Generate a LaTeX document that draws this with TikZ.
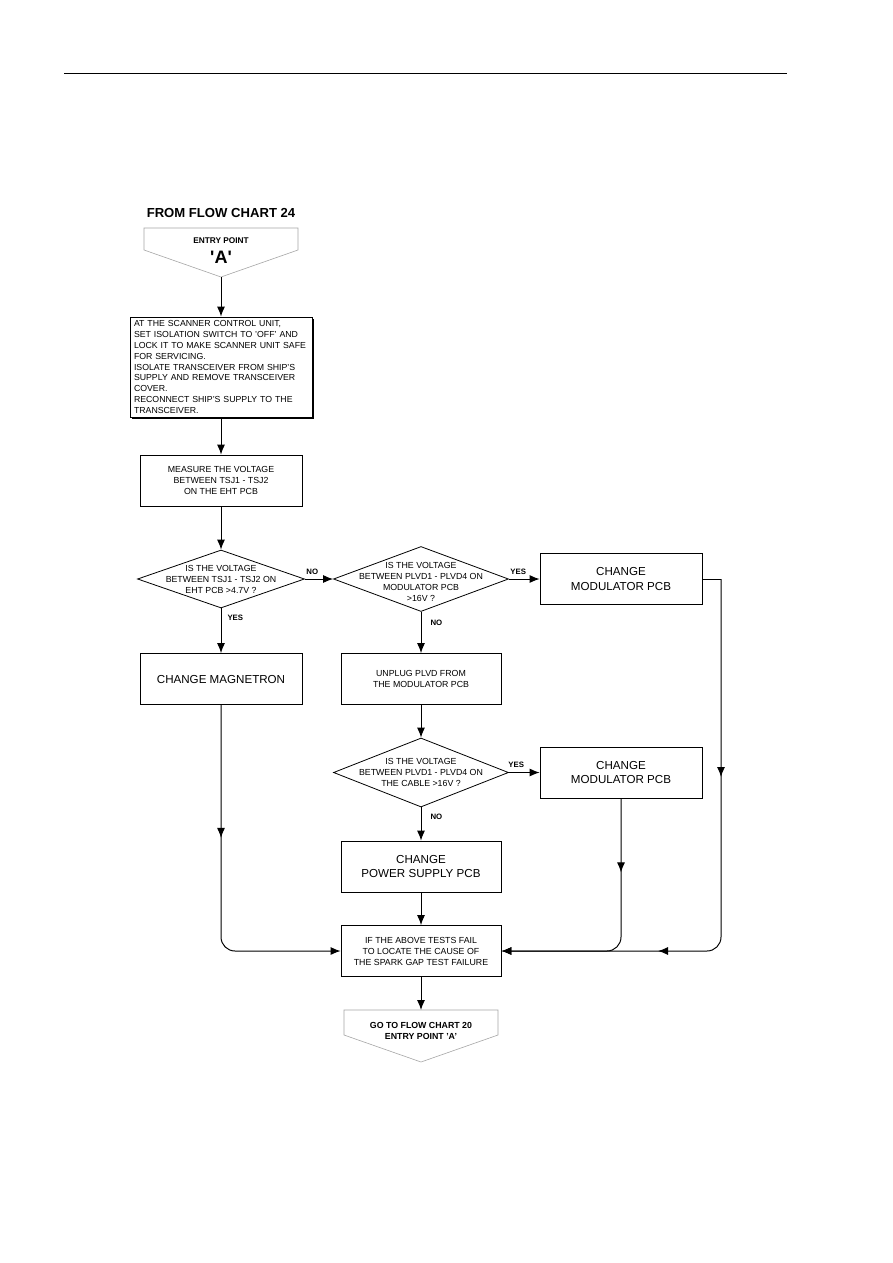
\documentclass[tikz,border=0pt]{standalone}
\usepackage{fontspec}
\setmainfont{Liberation Sans}
\usetikzlibrary{arrows.meta,shapes.geometric,shadows,decorations.markings}

\newcommand{\smalltxt}{\fontsize{8.8}{11}\selectfont}
\newcommand{\bigtxt}{\fontsize{11.6}{14.3}\selectfont}
\newcommand{\flagtxt}{\fontsize{7.8}{9}\selectfont\bfseries}

\tikzset{
  >={Latex[length=10pt,width=8pt]},
  flowbox/.style={draw, line width=0.8pt, minimum width=162pt, minimum height=51pt, inner sep=0pt, align=center, font=\smalltxt},
  bigbox/.style={flowbox, font=\bigtxt},
  decision/.style={draw, diamond, line width=0.8pt, inner sep=0pt},
  dlabel/.style={align=center, font=\smalltxt, inner sep=0pt},
  flag/.style={font=\flagtxt, inner sep=1pt},
  link/.style={->, line width=1pt},
  midarrow/.style={postaction={decorate, decoration={markings, mark=at position #1 with {\arrow{>}}}}},
  terminal/.style={draw=gray!70, line width=0.6pt},
}

\begin{document}
\begin{tikzpicture}[x=1pt, y=-1pt]
    \path[fill=white] (0,0) rectangle (893,1263);
    \useasboundingbox (0,0) rectangle (893,1263);

    % Page header rule
    \draw[line width=1pt] (64,73) -- (787,73);

    % Entry point
    \node[font=\fontsize{13.1}{15}\selectfont\bfseries] (title) at (221,213) {FROM FLOW CHART 24};
    \draw[terminal] (144,228) -- (298,228) -- (298,250) -- (221,277) -- (144,250) -- cycle;
    \coordinate (entrytip) at (221,277);
    \node[font=\fontsize{8.3}{10}\selectfont\bfseries] (entry) at (221,241) {ENTRY POINT};
    \node[font=\fontsize{18}{20}\selectfont\bfseries] (entrya) at (221,257) {\textquotesingle A\textquotesingle};

    % Left column
    \node[flowbox, fill=white, drop shadow={shadow xshift=1.5pt, shadow yshift=-1.5pt, fill=black, opacity=1},
          minimum width=182pt, minimum height=100pt, text width=174pt, align=left,
          font=\fontsize{8.75}{10.8}\selectfont] (setup) at (221,367)
      {AT THE SCANNER CONTROL UNIT,\\SET ISOLATION SWITCH TO 'OFF' AND\\LOCK IT TO MAKE SCANNER UNIT SAFE\\FOR SERVICING.\\ISOLATE TRANSCEIVER FROM SHIP'S\\SUPPLY AND REMOVE TRANSCEIVER\\COVER.\\RECONNECT SHIP'S SUPPLY TO THE\\TRANSCEIVER.};
    \node[flowbox] (measure) at (221,480.5) {MEASURE THE VOLTAGE\\BETWEEN TSJ1 - TSJ2\\ON THE EHT PCB};
    \node[decision, minimum width=167pt, minimum height=58pt,
          label={[dlabel]center:IS THE VOLTAGE\\BETWEEN TSJ1 - TSJ2 ON\\EHT PCB >4.7V ?}] (d1) at (221,579) {};
    \node[bigbox] (magnet) at (221,679) {CHANGE MAGNETRON};

    % Middle column
    \node[decision, minimum width=175pt, minimum height=65pt,
          label={[dlabel, yshift=-3pt]center:IS THE VOLTAGE\\BETWEEN PLVD1 - PLVD4 ON\\MODULATOR PCB\\>16V ?}] (d2) at (421,579) {};
    \node[flowbox, minimum width=160pt] (unplug) at (421,679) {UNPLUG PLVD FROM\\THE MODULATOR PCB};
    \node[decision, minimum width=175pt, minimum height=69pt,
          label={[dlabel]center:IS THE VOLTAGE\\BETWEEN PLVD1 - PLVD4 ON\\THE CABLE >16V ?}] (d3) at (421,772.5) {};
    \node[bigbox, minimum width=160pt] (psu) at (421,866.5) {CHANGE\\POWER SUPPLY PCB};
    \node[flowbox, minimum width=160pt] (fail) at (421,951) {IF THE ABOVE TESTS FAIL\\TO LOCATE THE CAUSE OF\\THE SPARK GAP TEST FAILURE};

    % Right column
    \node[bigbox] (mod1) at (621,579) {CHANGE\\MODULATOR PCB};
    \node[bigbox] (mod2) at (621,772.5) {CHANGE\\MODULATOR PCB};
    \coordinate (rail) at (721,579);

    % Exit point
    \draw[terminal] (344,1010) -- (498,1010) -- (498,1035) -- (421,1062) -- (344,1035) -- cycle;
    \coordinate (exittop) at (421,1010);
    \node[font=\fontsize{8.8}{10}\selectfont\bfseries] (exit) at (421,1025) {GO TO FLOW CHART 20};
    \node[font=\fontsize{8.8}{10}\selectfont\bfseries] (exita) at (421,1036) {ENTRY POINT 'A'};

    % Connectors
    \draw[link] (entrytip) -- (setup.north);
    \draw[link] (setup.south) -- (measure.north);
    \draw[link] (measure.south) -- (d1.north);
    \draw[link] (d1.east) -- node[flag, anchor=south west, pos=0, yshift=3pt] {NO} (d2.west);
    \draw[link] (d1.south) -- node[flag, anchor=west, pos=0.21, xshift=5pt] {YES} (magnet.north);
    \draw[link] (d2.east) -- node[flag, anchor=south west, pos=0, yshift=3pt] {YES} (mod1.west);
    \draw[link] (d2.south) -- node[flag, anchor=west, pos=0.26, xshift=8pt] {NO} (unplug.north);
    \draw[link] (unplug.south) -- (d3.north);
    \draw[link] (d3.east) -- node[flag, anchor=south west, pos=0, xshift=-2pt, yshift=3pt] {YES} (mod2.west);
    \draw[link] (d3.south) -- node[flag, anchor=west, pos=0.29, xshift=8pt] {NO} (psu.north);
    \draw[link] (psu.south) -- (fail.north);
    \draw[link] (fail.south) -- (exittop);

    % Return lines into the final box
    \draw[link, rounded corners=14pt, midarrow=133pt] (magnet.south) |- (fail.west);
    \draw[link, rounded corners=14pt, midarrow=74pt] (mod2.south) |- (fail.east);
    \draw[line width=1pt] (mod1.east) -- (rail);
    \draw[link, rounded corners=14pt, midarrow=198pt, midarrow=429pt] (rail) |- (fail.east);
\end{tikzpicture}
\end{document}
